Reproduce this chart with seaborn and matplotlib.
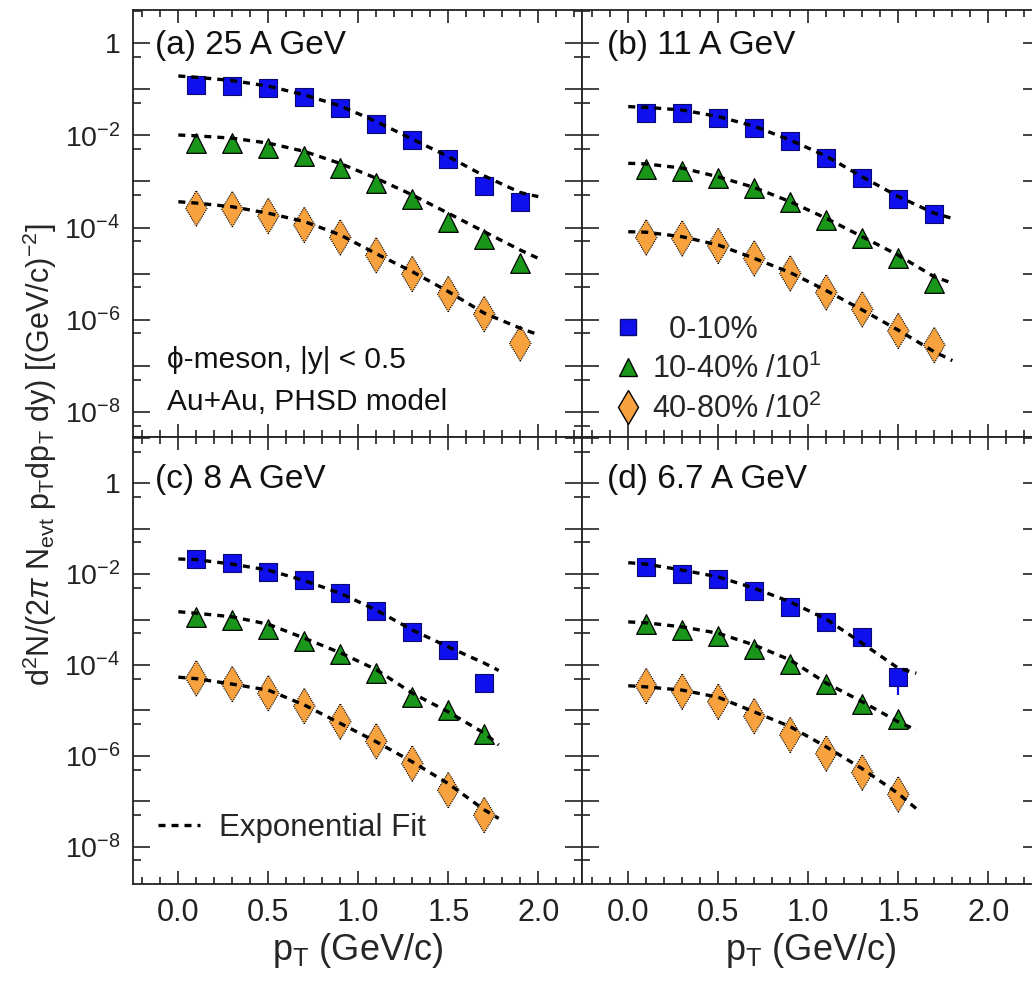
import numpy as np
import matplotlib
matplotlib.use('Agg')
import matplotlib.pyplot as plt
from matplotlib import ticker, font_manager
from matplotlib.lines import Line2D
import seaborn as sns

# --- data (phi-meson pT spectra, PHSD) ---
PT10 = [0.1, 0.3, 0.5, 0.7, 0.9, 1.1, 1.3, 1.5, 1.7, 1.9]
PT9 = [0.1, 0.3, 0.5, 0.7, 0.9, 1.1, 1.3, 1.5, 1.7]
PT8 = [0.1, 0.3, 0.5, 0.7, 0.9, 1.1, 1.3, 1.5]

# (a) 25 A GeV
A_C0 = [0.124, 0.118, 0.105, 0.0695, 0.0401, 0.0177, 8.0e-3, 3.0e-3, 8.0e-4, 3.65e-4]
A_C1 = [6.7e-3, 6.7e-3, 5.2e-3, 3.6e-3, 2.0e-3, 9.3e-4, 4.1e-4, 1.32e-4, 5.5e-5, 1.73e-5]
A_C2 = [2.6e-4, 2.5e-4, 1.78e-4, 1.14e-4, 6.1e-5, 2.5e-5, 9.8e-6, 3.6e-6, 1.32e-6, 3.05e-7]
# (b) 11 A GeV
B_C0 = [0.0312, 0.0312, 0.0235, 0.0143, 7.6e-3, 3.3e-3, 1.21e-3, 4.2e-4, 2.0e-4]
B_C1 = [1.84e-3, 1.69e-3, 1.17e-3, 7.3e-4, 3.5e-4, 1.46e-4, 6.0e-5, 2.14e-5, 6.1e-6]
B_C2 = [6.1e-5, 5.8e-5, 4.0e-5, 2.14e-5, 1.01e-5, 3.9e-6, 1.67e-6, 5.7e-7, 2.8e-7]
# (c) 8 A GeV
C_C0 = [0.0212, 0.0173, 0.0114, 7.4e-3, 3.8e-3, 1.57e-3, 5.2e-4, 2.14e-4, 4.1e-5]
C_C1 = [1.12e-3, 9.8e-4, 6.3e-4, 3.4e-4, 1.78e-4, 6.7e-5, 1.94e-5, 1.02e-5, 3.0e-6]
C_C2 = [5.1e-5, 3.8e-5, 2.4e-5, 1.25e-5, 5.7e-6, 2.1e-6, 6.8e-7, 1.77e-7, 5.0e-8]
# (d) 6.7 A GeV
D_C0 = [0.0141, 0.0101, 7.8e-3, 4.3e-3, 1.92e-3, 9.0e-4, 4.1e-4, 5.5e-5]
D_C0_ERR = [0, 0, 0, 0, 0, 0, 0, 3.3e-5]
D_C1 = [8.1e-4, 5.8e-4, 4.3e-4, 2.2e-4, 1.07e-4, 3.75e-5, 1.41e-5, 6.4e-6]
D_C2 = [3.45e-5, 2.6e-5, 1.56e-5, 7.5e-6, 2.9e-6, 1.13e-6, 4.3e-7, 1.42e-7]

# exponential fit curves
FIT_PT_A = [0.0, 0.1, 0.3, 0.5, 0.7, 0.9, 1.1, 1.3, 1.5, 1.7, 1.9, 2.0]
FIT_A_C0 = [0.195, 0.183, 0.155, 0.1175, 0.0759, 0.0437, 0.0200, 8.3e-3, 3.47e-3, 1.32e-3, 5.75e-4, 4.68e-4]
FIT_A_C1 = [0.0102, 9.8e-3, 8.7e-3, 6.8e-3, 4.5e-3, 2.45e-3, 1.17e-3, 5.1e-4, 2.04e-4, 8.1e-5, 3.24e-5, 2.14e-5]
FIT_A_C2 = [3.63e-4, 3.39e-4, 2.82e-4, 2.04e-4, 1.35e-4, 6.9e-5, 2.69e-5, 1.10e-5, 4.07e-6, 1.38e-6, 6.5e-7, 4.7e-7]

FIT_PT_B = [0.0, 0.1, 0.3, 0.5, 0.7, 0.9, 1.1, 1.3, 1.5, 1.7, 1.8]
FIT_B_C0 = [0.0422, 0.0407, 0.0355, 0.0257, 0.0158, 7.9e-3, 3.55e-3, 1.26e-3, 4.7e-4, 2.04e-4, 1.58e-4]
FIT_B_C1 = [2.48e-3, 2.40e-3, 1.95e-3, 1.26e-3, 7.4e-4, 3.63e-4, 1.58e-4, 6.3e-5, 2.5e-5, 8.5e-6, 6.2e-6]
FIT_B_C2 = [8.1e-5, 7.9e-5, 6.3e-5, 4.17e-5, 2.14e-5, 1.05e-5, 4.27e-6, 1.62e-6, 5.9e-7, 2.0e-7, 1.29e-7]

FIT_PT_C = [0.0, 0.1, 0.3, 0.5, 0.7, 0.9, 1.1, 1.3, 1.5, 1.7, 1.78]
FIT_C_C0 = [0.0216, 0.0209, 0.0166, 0.0123, 7.2e-3, 3.8e-3, 1.62e-3, 5.9e-4, 2.5e-4, 1.10e-4, 7.6e-5]
FIT_C_C1 = [1.49e-3, 1.38e-3, 1.15e-3, 7.9e-4, 3.9e-4, 1.86e-4, 7.9e-5, 2.4e-5, 9.3e-6, 3.16e-6, 1.74e-6]
FIT_C_C2 = [5.4e-5, 5.0e-5, 3.8e-5, 2.8e-5, 1.32e-5, 5.2e-6, 2.04e-6, 7.4e-7, 2.45e-7, 6.5e-8, 4.2e-8]

FIT_PT_D = [0.0, 0.1, 0.3, 0.5, 0.7, 0.9, 1.1, 1.3, 1.5, 1.6]
FIT_D_C0 = [0.0179, 0.0166, 0.0123, 8.7e-3, 4.9e-3, 2.45e-3, 1.02e-3, 3.0e-4, 8.5e-5, 6.6e-5]
FIT_D_C1 = [8.9e-4, 8.5e-4, 6.9e-4, 5.0e-4, 2.75e-4, 1.29e-4, 4.0e-5, 1.55e-5, 5.6e-6, 3.7e-6]
FIT_D_C2 = [3.5e-5, 3.3e-5, 2.8e-5, 1.95e-5, 9.3e-6, 4.4e-6, 1.58e-6, 5.2e-7, 1.48e-7, 6.9e-8]

PANEL_TITLES = ["(a) 25 A GeV", "(b) 11 A GeV", "(c) 8 A GeV", "(d) 6.7 A GeV"]
CENT_LABELS = ["  0-10%", "10-40% /10$^{1}$", "40-80% /10$^{2}$"]

# marker styles for the three centrality classes
STYLES = [
    dict(marker='s', s=150, color='#1010ee', edgecolor='#0a0a70', linewidth=0.8),
    dict(marker='^', s=200, color='#1a961a', edgecolor='black', linewidth=0.9),
    dict(marker='d', s=330, color='#f7a23e', edgecolor='black', linewidth=0.8),
]
FIT_KW = dict(color='black', lw=2.4, linestyle=(0, (2.1, 1.8)), zorder=5)

sns.set_theme(style='ticks')
installed = {f.name for f in font_manager.fontManager.ttflist}
NARROW = 'Liberation Sans Narrow' if 'Liberation Sans Narrow' in installed else 'Liberation Sans'
plt.rcParams['font.family'] = ['Liberation Sans', 'DejaVu Sans']
plt.rcParams['mathtext.fontset'] = 'custom'
plt.rcParams['mathtext.rm'] = 'Liberation Sans'
plt.rcParams['mathtext.it'] = 'Liberation Sans:italic'
plt.rcParams['mathtext.bf'] = 'Liberation Sans:bold'
plt.rcParams['mathtext.sf'] = 'Liberation Sans'
plt.rcParams['axes.linewidth'] = 1.3

panels = [
    dict(pt=PT10, vals=[A_C0, A_C1, A_C2], fit_pt=FIT_PT_A, fits=[FIT_A_C0, FIT_A_C1, FIT_A_C2], err=None),
    dict(pt=PT9, vals=[B_C0, B_C1, B_C2], fit_pt=FIT_PT_B, fits=[FIT_B_C0, FIT_B_C1, FIT_B_C2], err=None),
    dict(pt=PT9, vals=[C_C0, C_C1, C_C2], fit_pt=FIT_PT_C, fits=[FIT_C_C0, FIT_C_C1, FIT_C_C2], err=None),
    dict(pt=PT8, vals=[D_C0, D_C1, D_C2], fit_pt=FIT_PT_D, fits=[FIT_D_C0, FIT_D_C1, FIT_D_C2], err=D_C0_ERR),
]

W, H = 1032, 982
fig = plt.figure(figsize=(W / 100, H / 100), dpi=100)

# axes boxes in pixels: (left, top, right, bottom); right column runs past the image edge
boxes = [(133, 10, 582, 437), (582, 10, 1040, 437),
         (133, 437, 582, 884), (582, 437, 1040, 884)]
xlims = [(-0.252, 2.243), (-0.257, 2.287), (-0.252, 2.243), (-0.257, 2.287)]
ylims = [(10 ** -8.549, 10 ** 0.723), (10 ** -8.549, 10 ** 0.723),
         (10 ** -8.82, 10 ** 1.019), (10 ** -8.82, 10 ** 1.019)]


def ylabel_fmt(v, pos):
    e = int(round(np.log10(v)))
    if e % 2:
        return ''
    return '1' if e == 0 else r'$10^{%d}$' % e


axes = []
for i, (l, t, r, b) in enumerate(boxes):
    ax = fig.add_axes([l / W, 1 - b / H, (r - l) / W, (b - t) / H])
    axes.append(ax)
    p = panels[i]
    ax.set_yscale('log')

    if p['err'] is not None:
        ax.errorbar(p['pt'], p['vals'][0], yerr=p['err'], fmt='none',
                    ecolor=STYLES[0]['color'], elinewidth=1.6, capsize=0, zorder=2)
    for vals, st in zip(p['vals'], STYLES):
        sns.scatterplot(x=p['pt'], y=vals, ax=ax, legend=False, zorder=3, **st)
        if st['marker'] == 'd':
            ax.collections[-1].set_linestyle((0, (1, 1)))
    for fit in p['fits']:
        sns.lineplot(x=p['fit_pt'], y=fit, ax=ax, **FIT_KW)

    ax.set_xlim(*xlims[i])
    ax.set_ylim(*ylims[i])
    ax.xaxis.set_major_locator(ticker.MultipleLocator(0.5))
    ax.xaxis.set_minor_locator(ticker.MultipleLocator(0.1))
    ax.xaxis.set_major_formatter(ticker.FormatStrFormatter('%.1f'))
    ax.yaxis.set_major_locator(ticker.LogLocator(base=10, subs=(1.0,), numticks=30))
    ax.yaxis.set_minor_locator(ticker.LogLocator(base=10, subs=(5.0,), numticks=30))
    ax.yaxis.set_major_formatter(ticker.FuncFormatter(ylabel_fmt))
    ax.yaxis.set_minor_formatter(ticker.NullFormatter())

    ax.tick_params(which='both', direction='in', top=True, right=True, colors='#222222')
    ax.tick_params(axis='y', which='major', length=12, width=1.2, labelsize=20.5, pad=9)
    ax.tick_params(axis='y', which='minor', length=6, width=1.2)
    ax.tick_params(axis='x', which='major', length=9.5, width=1.2, labelsize=22, pad=10)
    ax.tick_params(axis='x', which='minor', length=5, width=1.2)
    ax.tick_params(labelbottom=i >= 2, labelleft=i % 2 == 0)
    for lab in ax.get_xticklabels():
        lab.set_family([NARROW, 'DejaVu Sans'])
    for sp in ax.spines.values():
        sp.set_color('#222222')

    tx = 0.049 if i % 2 == 0 else 0.055
    ty = 0.918 if i < 2 else 0.904
    ax.text(tx, ty, PANEL_TITLES[i], transform=ax.transAxes, fontsize=24,
            ha='left', va='center', color='#111111')
    if i >= 2:
        ax.set_xlabel(r'p$_{\mathrm{T}}$ (GeV/c)', fontsize=26, family=[NARROW, 'DejaVu Sans'],
                      labelpad=2)

# annotations in panel (a)
axes[0].text(0.075, 0.18, 'ϕ-meson, |y| < 0.5', transform=axes[0].transAxes, fontsize=21.5,
             ha='left', va='center', color='#111111')
axes[0].text(0.075, 0.083, 'Au+Au, PHSD model', transform=axes[0].transAxes, fontsize=21.5,
             ha='left', va='center', color='#111111')

# centrality legend in panel (b)
handles = [Line2D([], [], linestyle='none', marker=st['marker'], color=st['color'],
                  markeredgecolor=st['edgecolor'], markersize=np.sqrt(st['s']) * 0.95)
           for st in STYLES]
axes[1].legend(handles, CENT_LABELS, loc='upper left', bbox_to_anchor=(0.067, 0.286),
               frameon=False, fontsize=22, handlelength=1.0, handletextpad=0.3,
               labelspacing=0.28, borderpad=0, borderaxespad=0)

# fit legend in panel (c)
fit_handle = Line2D([], [], **{k: v for k, v in FIT_KW.items() if k != 'zorder'})
axes[2].legend([fit_handle], ['Exponential Fit'], loc='center left', bbox_to_anchor=(0.056, 0.125),
               frameon=False, fontsize=22.5, handlelength=1.35, handletextpad=0.6,
               borderpad=0, borderaxespad=0)

fig.text(0.039, 0.537, r'd$^{2}$N/(2$\pi$ N$_{\mathrm{evt}}$ p$_{\mathrm{T}}$dp$_{\mathrm{T}}$ dy) [(GeV/c)$^{-2}$]',
         rotation=90, ha='center', va='center', fontsize=22, family=[NARROW, 'DejaVu Sans'])

fig.savefig('out.png', dpi=100)
